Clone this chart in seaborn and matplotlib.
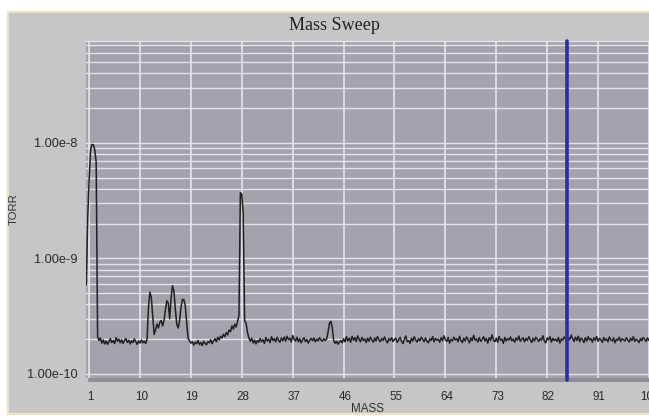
import numpy as np
import pandas as pd
import matplotlib
matplotlib.use("Agg")
import matplotlib.pyplot as plt
import matplotlib.ticker as mticker
from matplotlib.patches import Rectangle
from matplotlib.transforms import ScaledTranslation
import seaborn as sns

# Scan axis: first mass and spacing between samples (amu)
mass_start = 0.5
mass_step = 0.25

# Partial pressure per sample, in units of 1e-10 Torr
pressure_e10 = [
    5.9, 22, 48, 86, 97, 96, 87, 68, 2.1, 1.95, 2.05, 1.85, 1.97, 1.82, 1.93, 1.8, 1.9, 2.02, 1.87, 1.95,
    1.83, 2.06, 1.92, 2.0, 1.86, 1.98, 1.84, 1.95, 2.03, 1.88, 1.96, 1.82, 1.94, 1.87, 2.01, 1.9, 1.8, 1.93, 1.85, 1.97,
    1.86, 1.92, 1.84, 2.0, 3.8, 5.1, 4.6, 3.2, 2.2, 2.4, 2.7, 2.5, 2.8, 2.9, 2.6, 2.9, 3.6, 4.3, 4.1, 3.0,
    4.6, 5.8, 5.2, 3.6, 2.7, 2.5, 2.9, 3.8, 4.4, 4.4, 3.9, 2.8, 2.02, 1.94, 1.85, 1.9, 1.78, 1.88, 1.83, 1.95,
    1.8, 1.87, 1.76, 1.92, 1.84, 1.79, 1.9, 1.86, 1.98, 1.83, 1.93, 2.02, 1.9, 2.08, 1.97, 2.12, 2.05, 2.2, 2.1, 2.28,
    2.18, 2.4, 2.32, 2.6, 2.45, 2.7, 2.55, 2.85, 3.2, 37, 36, 24, 2.9, 2.75, 2.3, 2.05, 1.92, 2.04, 1.85, 1.97,
    1.82, 1.95, 1.88, 2.03, 1.9, 1.98, 1.84, 2.07, 1.93, 2.0, 1.87, 2.1, 1.95, 2.02, 1.9, 2.08, 1.96, 1.88, 2.05, 1.94,
    2.09, 1.92, 2.12, 1.98, 2.04, 1.89, 2.15, 2.0, 1.93, 2.08, 1.9, 2.02, 1.86, 1.97, 2.06, 1.91, 1.99, 1.85, 1.96, 2.03,
    1.94, 2.05, 1.9, 2.0, 1.93, 2.06, 1.97, 1.92, 2.02, 1.95, 2.0, 2.3, 2.75, 2.85, 2.5, 1.95, 1.84, 1.92, 1.81, 1.88,
    1.95, 1.86, 2.02, 1.9, 2.1, 1.93, 2.04, 1.88, 2.12, 1.96, 2.06, 1.91, 2.14, 1.99, 1.9, 2.07, 1.95, 2.01, 1.87, 2.04,
    1.92, 2.08, 1.97, 1.89, 2.05, 1.93, 2.11, 1.98, 1.9, 2.03, 1.95, 2.09, 1.96, 1.86, 2.02, 1.94, 2.06, 1.91, 1.99, 2.04,
    1.88, 1.97, 2.07, 1.92, 1.83, 2.0, 2.13, 1.9, 1.95, 1.84, 2.04, 1.93, 2.1, 1.97, 1.89, 2.02, 1.94, 2.08, 1.99, 1.9,
    2.05, 1.92, 1.86, 2.02, 1.95, 2.11, 1.9, 2.03, 1.96, 2.0, 1.88, 2.06, 1.94, 2.14, 1.98, 1.91, 2.07, 1.85, 1.99, 1.93,
    2.08, 1.97, 2.02, 1.9, 2.12, 1.95, 1.87, 2.04, 1.93, 2.09, 1.99, 1.86, 2.05, 1.94, 2.16, 1.96, 2.01, 1.89, 2.07, 1.92,
    1.98, 2.1, 1.93, 2.03, 1.85, 2.06, 1.95, 2.18, 1.97, 1.9, 2.04, 1.88, 2.11, 1.96, 2.0, 1.84, 2.07, 1.93, 2.02, 1.97,
    2.09, 1.94, 2.01, 1.88, 2.05, 1.96, 2.13, 1.92, 1.99, 2.06, 1.9, 2.03, 1.95, 2.1, 1.98, 1.87, 2.04, 1.93, 2.08, 2.0,
    1.91, 2.02, 1.96, 2.14, 1.93, 1.86, 2.05, 1.97, 2.1, 1.89, 2.03, 1.95, 2.0, 1.92, 2.07, 1.85, 2.01, 1.96, 2.09, 2.0,
    1.94, 2.06, 1.98, 2.17, 2.02, 1.91, 2.08, 1.95, 2.12, 1.9, 2.04, 1.99, 1.87, 2.06, 1.93, 2.1, 1.97, 2.02, 1.89, 2.05,
    1.96, 2.11, 1.92, 2.03, 1.98, 1.88, 2.07, 1.95, 2.01, 1.9, 2.09, 1.97, 1.93, 2.05, 1.86, 2.0, 1.96, 2.08, 1.91, 2.02,
    1.98, 1.93, 2.06, 1.97, 1.89, 2.04, 1.95, 2.1, 1.92, 2.0, 1.96, 1.87, 2.03, 1.94, 2.07, 1.99, 1.91, 2.05, 1.95, 2.01,
    1.93, 2.04, 1.97,
]

x_ticks = [1, 10, 19, 28, 37, 46, 55, 64, 73, 82, 91, 100]
y_ticks = [1e-10, 1e-9, 1e-8]
cursor_mass = 85.5
title = "Mass Sweep"
x_label = "MASS"
y_label = "TORR"

mass = mass_start + mass_step * np.arange(len(pressure_e10))
df = pd.DataFrame({"mass": mass, "torr": np.asarray(pressure_e10) * 1e-10})

sns.set_style("white")
plt.rcParams["font.family"] = ["Liberation Sans", "DejaVu Sans"]

W, H = 649, 419
fig = plt.figure(figsize=(W / 100, H / 100), dpi=100, facecolor="white")


def px_box(x0, y0, x1, y1):
    return [x0 / W, 1 - y1 / H, (x1 - x0) / W, (y1 - y0) / H]


# window panel behind the plot
fig.patches.append(Rectangle((8 / W, 1 - 414 / H), 1.0, (414 - 12) / H,
                             transform=fig.transFigure, facecolor="#c6c6c8",
                             edgecolor="#e9e3c8", lw=1.5, zorder=-2))
# bevel strip under the plot area
fig.patches.append(Rectangle((88 / W, 1 - 382 / H), 1.0, 4 / H,
                             transform=fig.transFigure, facecolor="#8e8e95",
                             edgecolor="none", zorder=-1))

ax = fig.add_axes(px_box(86, 41, 654.6, 378))
ax.set_zorder(2)
ax.set_facecolor("#a3a3ab")
ax.set_axisbelow(True)

sns.lineplot(data=df, x="mass", y="torr", ax=ax, color="#202020", lw=1.1,
             estimator=None, sort=False, zorder=3)

ax.set_yscale("log")
ax.set_xlim(0.45, 101)
ax.set_ylim(0.923e-10, 7.6e-8)

ax.xaxis.set_major_locator(mticker.FixedLocator(x_ticks))
ax.yaxis.set_major_locator(mticker.FixedLocator(y_ticks))
ax.yaxis.set_minor_locator(mticker.LogLocator(base=10, subs=np.arange(2, 10), numticks=20))
ax.yaxis.set_minor_formatter(mticker.NullFormatter())


def sci_label(v, _pos):
    e = int(np.floor(np.log10(v) + 1e-9))
    return f"{v / 10 ** e:.2f}e{e}"


ax.yaxis.set_major_formatter(mticker.FuncFormatter(sci_label))

ax.grid(which="both", axis="y", color="#e4e4ea", lw=1.0)
ax.grid(which="major", axis="x", color="#e4e4ea", lw=1.2)

ax.tick_params(axis="both", which="both", length=0, colors="#2a2a2a")
ax.tick_params(axis="x", labelsize=8.4, pad=9)
ax.tick_params(axis="y", labelsize=9.2, pad=6)

for t in ax.xaxis.get_major_ticks():
    t.label1.set_transform(t.label1.get_transform() + ScaledTranslation(0.012, 0, fig.dpi_scale_trans))

for side in ["left", "right", "bottom"]:
    ax.spines[side].set_visible(False)
ax.spines["top"].set_color("#e4e4ea")
ax.spines["top"].set_linewidth(1.0)

# cursor marker
ax.axvline(cursor_mass, ymin=-0.006, ymax=1, color="#2c2ca6", lw=2.6,
           clip_on=False, zorder=5)

ax.set_xlabel(x_label, fontsize=8.4, color="#333333", va="center")
ax.xaxis.set_label_coords((368 - 86) / (654.6 - 86), -(409 - 378) / 337)
ax.set_ylabel(y_label, fontsize=8.2, color="#333333", va="center", ha="center")
ax.yaxis.set_label_coords((13.5 - 86) / (654.6 - 86), (378 - 209) / 337)

fig.text(334 / W, 1 - 25 / H, title, family=["Liberation Serif", "DejaVu Serif"],
         fontsize=13, color="#222222", ha="center", va="center")

fig.savefig("out.png", dpi=100, facecolor="white")
